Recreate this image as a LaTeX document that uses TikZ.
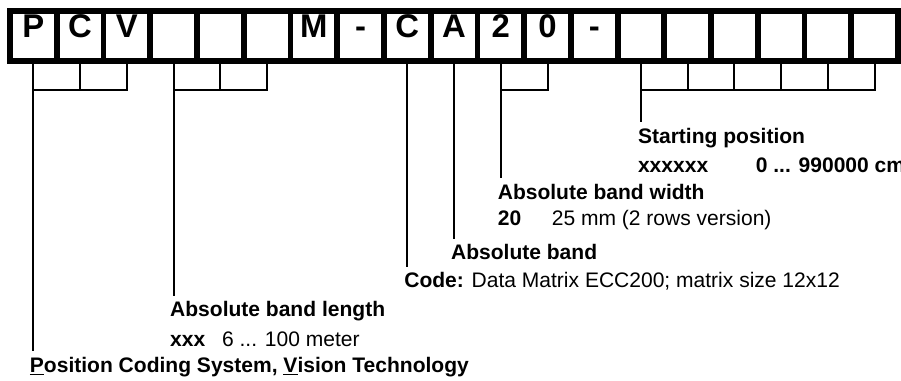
\documentclass[tikz,border=0pt]{standalone}
\usepackage{fontspec}
\setmainfont{Liberation Sans}
\usepackage{tikz}
\tikzset{
    cell/.style={draw, line width=3.5pt, minimum width=1cm, minimum height=1.07cm, inner sep=0pt, text height=14.4pt, text depth=12pt, font=\bfseries\fontsize{20}{24}\selectfont},
    tick/.style={line width=1.2pt},
    lbl/.style={anchor=base west, inner xsep=0pt, inner ysep=3.5pt, font=\fontsize{12.8}{15}\selectfont}
}
\begin{document}
\begin{tikzpicture}
        \useasboundingbox (-0.714,0.77) rectangle (18.563,-7.381);
        \node[cell] (b0) at (0,0) {P};
        \node[cell] (b1) at (1,0) {C};
        \node[cell] (b2) at (2,0) {V};
        \node[cell] (b3) at (3,0) {};
        \node[cell] (b4) at (4,0) {};
        \node[cell] (b5) at (5,0) {};
        \node[cell] (b6) at (6,0) {M};
        \node[cell] (b7) at (7,0) {-};
        \node[cell] (b8) at (8,0) {C};
        \node[cell] (b9) at (9,0) {A};
        \node[cell] (b10) at (10,0) {2};
        \node[cell] (b11) at (11,0) {0};
        \node[cell] (b12) at (12,0) {-};
        \node[cell] (b13) at (13,0) {};
        \node[cell] (b14) at (14,0) {};
        \node[cell] (b15) at (15,0) {};
        \node[cell] (b16) at (16,0) {};
        \node[cell] (b17) at (17,0) {};
        \node[cell] (b18) at (18,0) {};
        \coordinate (bar) at (0,-1.155);

        \node[lbl] (pcs) at (-0.08,-7.19) {\textbf{\underline{P}osition Coding System, \underline{V}ision Technology}};
        \node[lbl] (len) at (2.92,-6.01) {\textbf{Absolute band length}};
        \node[lbl] (lenval) at (2.92,-6.65) {\makebox[1.11cm][l]{\textbf{xxx}}6 ... 100 meter};
        \node[lbl] (code) at (7.93,-5.39) {\textbf{Code:} Data Matrix ECC200; matrix size 12x12};
        \node[lbl] (band) at (8.93,-4.79) {\textbf{Absolute band}};
        \node[lbl] (wid) at (9.93,-3.49) {\textbf{Absolute band width}};
        \node[lbl] (widval) at (9.93,-4.065) {\makebox[1.155cm][l]{\textbf{20}}25 mm (2 rows version)};
        \node[lbl] (start) at (12.93,-2.29) {\textbf{Starting position}};
        \node[lbl] (startval) at (12.93,-2.91) {\textbf{\makebox[2.52cm][l]{xxxxxx}0 ... 990000 cm}};

        \draw[tick] (b0.south) |- (b2.south |- bar) -- (b2.south);
        \draw[tick] (b1.south) -- (b1.south |- bar);
        \draw[tick] (b0.south) -- (b0.south |- pcs.north);

        \draw[tick] (b3.south) |- (b5.south |- bar) -- (b5.south);
        \draw[tick] (b4.south) -- (b4.south |- bar);
        \draw[tick] (b3.south) -- (b3.south |- len.north);

        \draw[tick] (b8.south) -- (b8.south |- code.north);
        \draw[tick] (b9.south) -- (b9.south |- band.north);

        \draw[tick] (b10.south) |- (b11.south |- bar) -- (b11.south);
        \draw[tick] (b10.south) -- (b10.south |- wid.north);

        \draw[tick] (b13.south) |- (b18.south |- bar) -- (b18.south);
        \draw[tick] (b14.south) -- (b14.south |- bar);
        \draw[tick] (b15.south) -- (b15.south |- bar);
        \draw[tick] (b16.south) -- (b16.south |- bar);
        \draw[tick] (b17.south) -- (b17.south |- bar);
        \draw[tick] (b13.south) -- (b13.south |- start.north);
\end{tikzpicture}
\end{document}
